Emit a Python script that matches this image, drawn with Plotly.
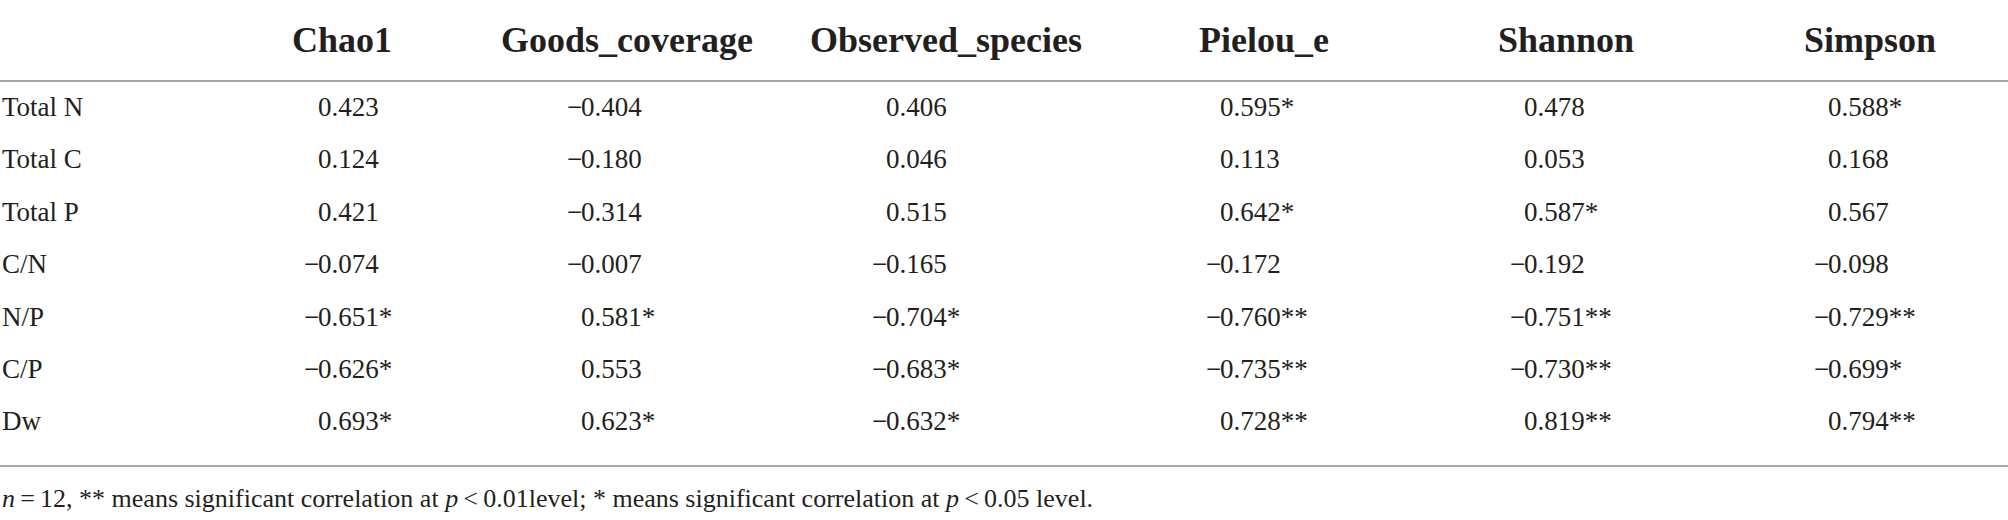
import plotly.graph_objects as go

# table content
columns = ["Chao1", "Goods_coverage", "Observed_species", "Pielou_e", "Shannon", "Simpson"]
rows = ["Total N", "Total C", "Total P", "C/N", "N/P", "C/P", "Dw"]

chao1 = [0.423, 0.124, 0.421, -0.074, -0.651, -0.626, 0.693]
goods_coverage = [-0.404, -0.180, -0.314, -0.007, 0.581, 0.553, 0.623]
observed_species = [0.406, 0.046, 0.515, -0.165, -0.704, -0.683, -0.632]
pielou_e = [0.595, 0.113, 0.642, -0.172, -0.760, -0.735, 0.728]
shannon = [0.478, 0.053, 0.587, -0.192, -0.751, -0.730, 0.819]
simpson = [0.588, 0.168, 0.567, -0.098, -0.729, -0.699, 0.794]

chao1_sig = ["", "", "", "", "*", "*", "*"]
goods_coverage_sig = ["", "", "", "", "*", "", "*"]
observed_species_sig = ["", "", "", "", "*", "*", "*"]
pielou_e_sig = ["*", "", "*", "", "**", "**", "**"]
shannon_sig = ["", "", "*", "", "**", "**", "**"]
simpson_sig = ["*", "", "", "", "**", "*", "**"]

footnote = ("<i>n</i>\u2009=\u200912, ** means significant correlation at <i>p</i>\u2009<\u20090.01level; "
            "* means significant correlation at <i>p</i>\u2009<\u20090.05 level.")

values = [chao1, goods_coverage, observed_species, pielou_e, shannon, simpson]
sigs = [chao1_sig, goods_coverage_sig, observed_species_sig, pielou_e_sig, shannon_sig, simpson_sig]

W, H = 2008, 520
font = "Liberation Serif"
ink = "#231f20"
rule = "#a6a6a6"

head_x = [342, 627, 946, 1264, 1566, 1870]   # header centres
num_x = [317, 580, 885, 1219, 1523, 1827]    # left edge of the leading 0 (decimal alignment)
head_y = 40
row_y0, row_step = 107, 52.4

ann = []
for name, x in zip(columns, head_x):
    ann.append(dict(x=x, y=head_y, text="<b>" + name + "</b>", xanchor="center", yanchor="middle",
                    font=dict(family=font, size=36, color=ink)))

for i, r in enumerate(rows):
    y = row_y0 + i * row_step
    ann.append(dict(x=1, y=y, text=r, xanchor="left", yanchor="middle",
                    font=dict(family=font, size=27, color=ink)))
    for vals, ss, x in zip(values, sigs, num_x):
        v = vals[i]
        ann.append(dict(x=x, y=y, text="%.3f" % abs(v) + ss[i], xanchor="left", yanchor="middle",
                        font=dict(family=font, size=27, color=ink)))
        if v < 0:
            ann.append(dict(x=x + 3, y=y, text="\u2212", xanchor="right", yanchor="middle",
                            font=dict(family=font, size=27, color=ink)))

ann.append(dict(x=1, y=498, text=footnote, xanchor="left", yanchor="middle",
                font=dict(family=font, size=26, color=ink)))

for a in ann:
    a.update(xref="x", yref="y", showarrow=False, borderpad=0)

fig = go.Figure()
fig.add_trace(go.Scatter(x=[0, W], y=[0, H], mode="markers", marker=dict(opacity=0),
                         hoverinfo="skip", showlegend=False))
fig.update_layout(
    width=W, height=H,
    margin=dict(l=0, r=0, t=0, b=0),
    paper_bgcolor="white", plot_bgcolor="white",
    annotations=ann,
    shapes=[
        dict(type="line", xref="x", yref="y", x0=0, x1=W, y0=81, y1=81, line=dict(color=rule, width=2)),
        dict(type="line", xref="x", yref="y", x0=0, x1=W, y0=466, y1=466, line=dict(color=rule, width=2)),
    ],
)
fig.update_xaxes(range=[0, W], visible=False, fixedrange=True)
fig.update_yaxes(range=[H, 0], visible=False, fixedrange=True)

# the page body has an 8px default margin; drop it so the figure sits at the window corner
fig.write_html("out.html", config={"displayModeBar": False},
               post_script="document.body.style.margin='0px';document.body.style.overflow='hidden';")
